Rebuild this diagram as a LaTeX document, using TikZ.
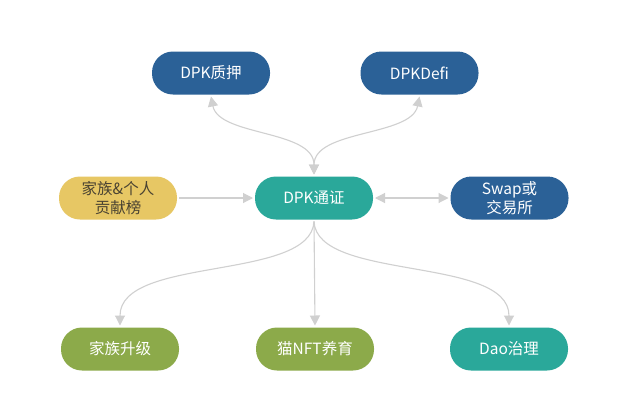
\documentclass[tikz,border=0pt]{standalone}
\usepackage{fontspec}
\setmainfont{Noto Sans CJK SC}
\usetikzlibrary{arrows.meta}
\definecolor{cblue}{HTML}{2B6197}
\definecolor{cteal}{HTML}{2AA89A}
\definecolor{cyellow}{HTML}{E7C764}
\definecolor{cgreen}{HTML}{8CAA4A}
\definecolor{cline}{HTML}{D0D0D0}
\definecolor{ctext}{HTML}{4A4332}
\begin{document}
\begin{tikzpicture}[x=1pt,y=-1pt,
  pill/.style={rounded corners=21pt,minimum width=118pt,minimum height=43pt,inner sep=0pt,outer sep=2pt,text=white,font=\fontsize{15.5}{17}\selectfont,align=center},
  conn/.style={draw=cline,line width=1.1pt,-{Triangle[length=10pt,width=10pt]}},
  bconn/.style={draw=cline,line width=1.1pt,{Triangle[length=10pt,width=10pt]}-{Triangle[length=10pt,width=10pt]}}]
\useasboundingbox (0,0) rectangle (632,410);
\fill[white] (0,0) rectangle (632,410);
\node[pill,fill=cblue] (zy) at (211,73) {DPK质押};
\node[pill,fill=cblue] (df) at (419.5,73) {DPKDefi};
\node[pill,fill=cyellow,text=ctext,font=\fontsize{15.5}{19}\selectfont] (gx) at (118,198) {家族\&个人\\贡献榜};
\node[pill,fill=cteal] (tz) at (314,198) {DPK通证};
\node[pill,fill=cblue,font=\fontsize{15.5}{19}\selectfont] (sw) at (509.5,198) {Swap或\\交易所};
\node[pill,fill=cgreen] (sj) at (120,349) {家族升级};
\node[pill,fill=cgreen] (mao) at (315,349) {猫NFT养育};
\node[pill,fill=cteal] (dao) at (509,349) {Dao治理};
\draw[bconn] (zy.south) .. controls +(8,40) and +(0,-45) .. (tz.north);
\draw[bconn] (df.south) .. controls +(-8,40) and +(0,-45) .. (tz.north);
\draw[conn] (gx.east) -- (tz.west);
\draw[bconn] (tz.east) -- (sw.west);
\draw[conn] (tz.south) .. controls +(-3,60) and +(0,-70) .. (sj.north);
\draw[conn] (tz.south) -- (mao.north);
\draw[conn] (tz.south) .. controls +(3,60) and +(0,-70) .. (dao.north);
\end{tikzpicture}
\end{document}
